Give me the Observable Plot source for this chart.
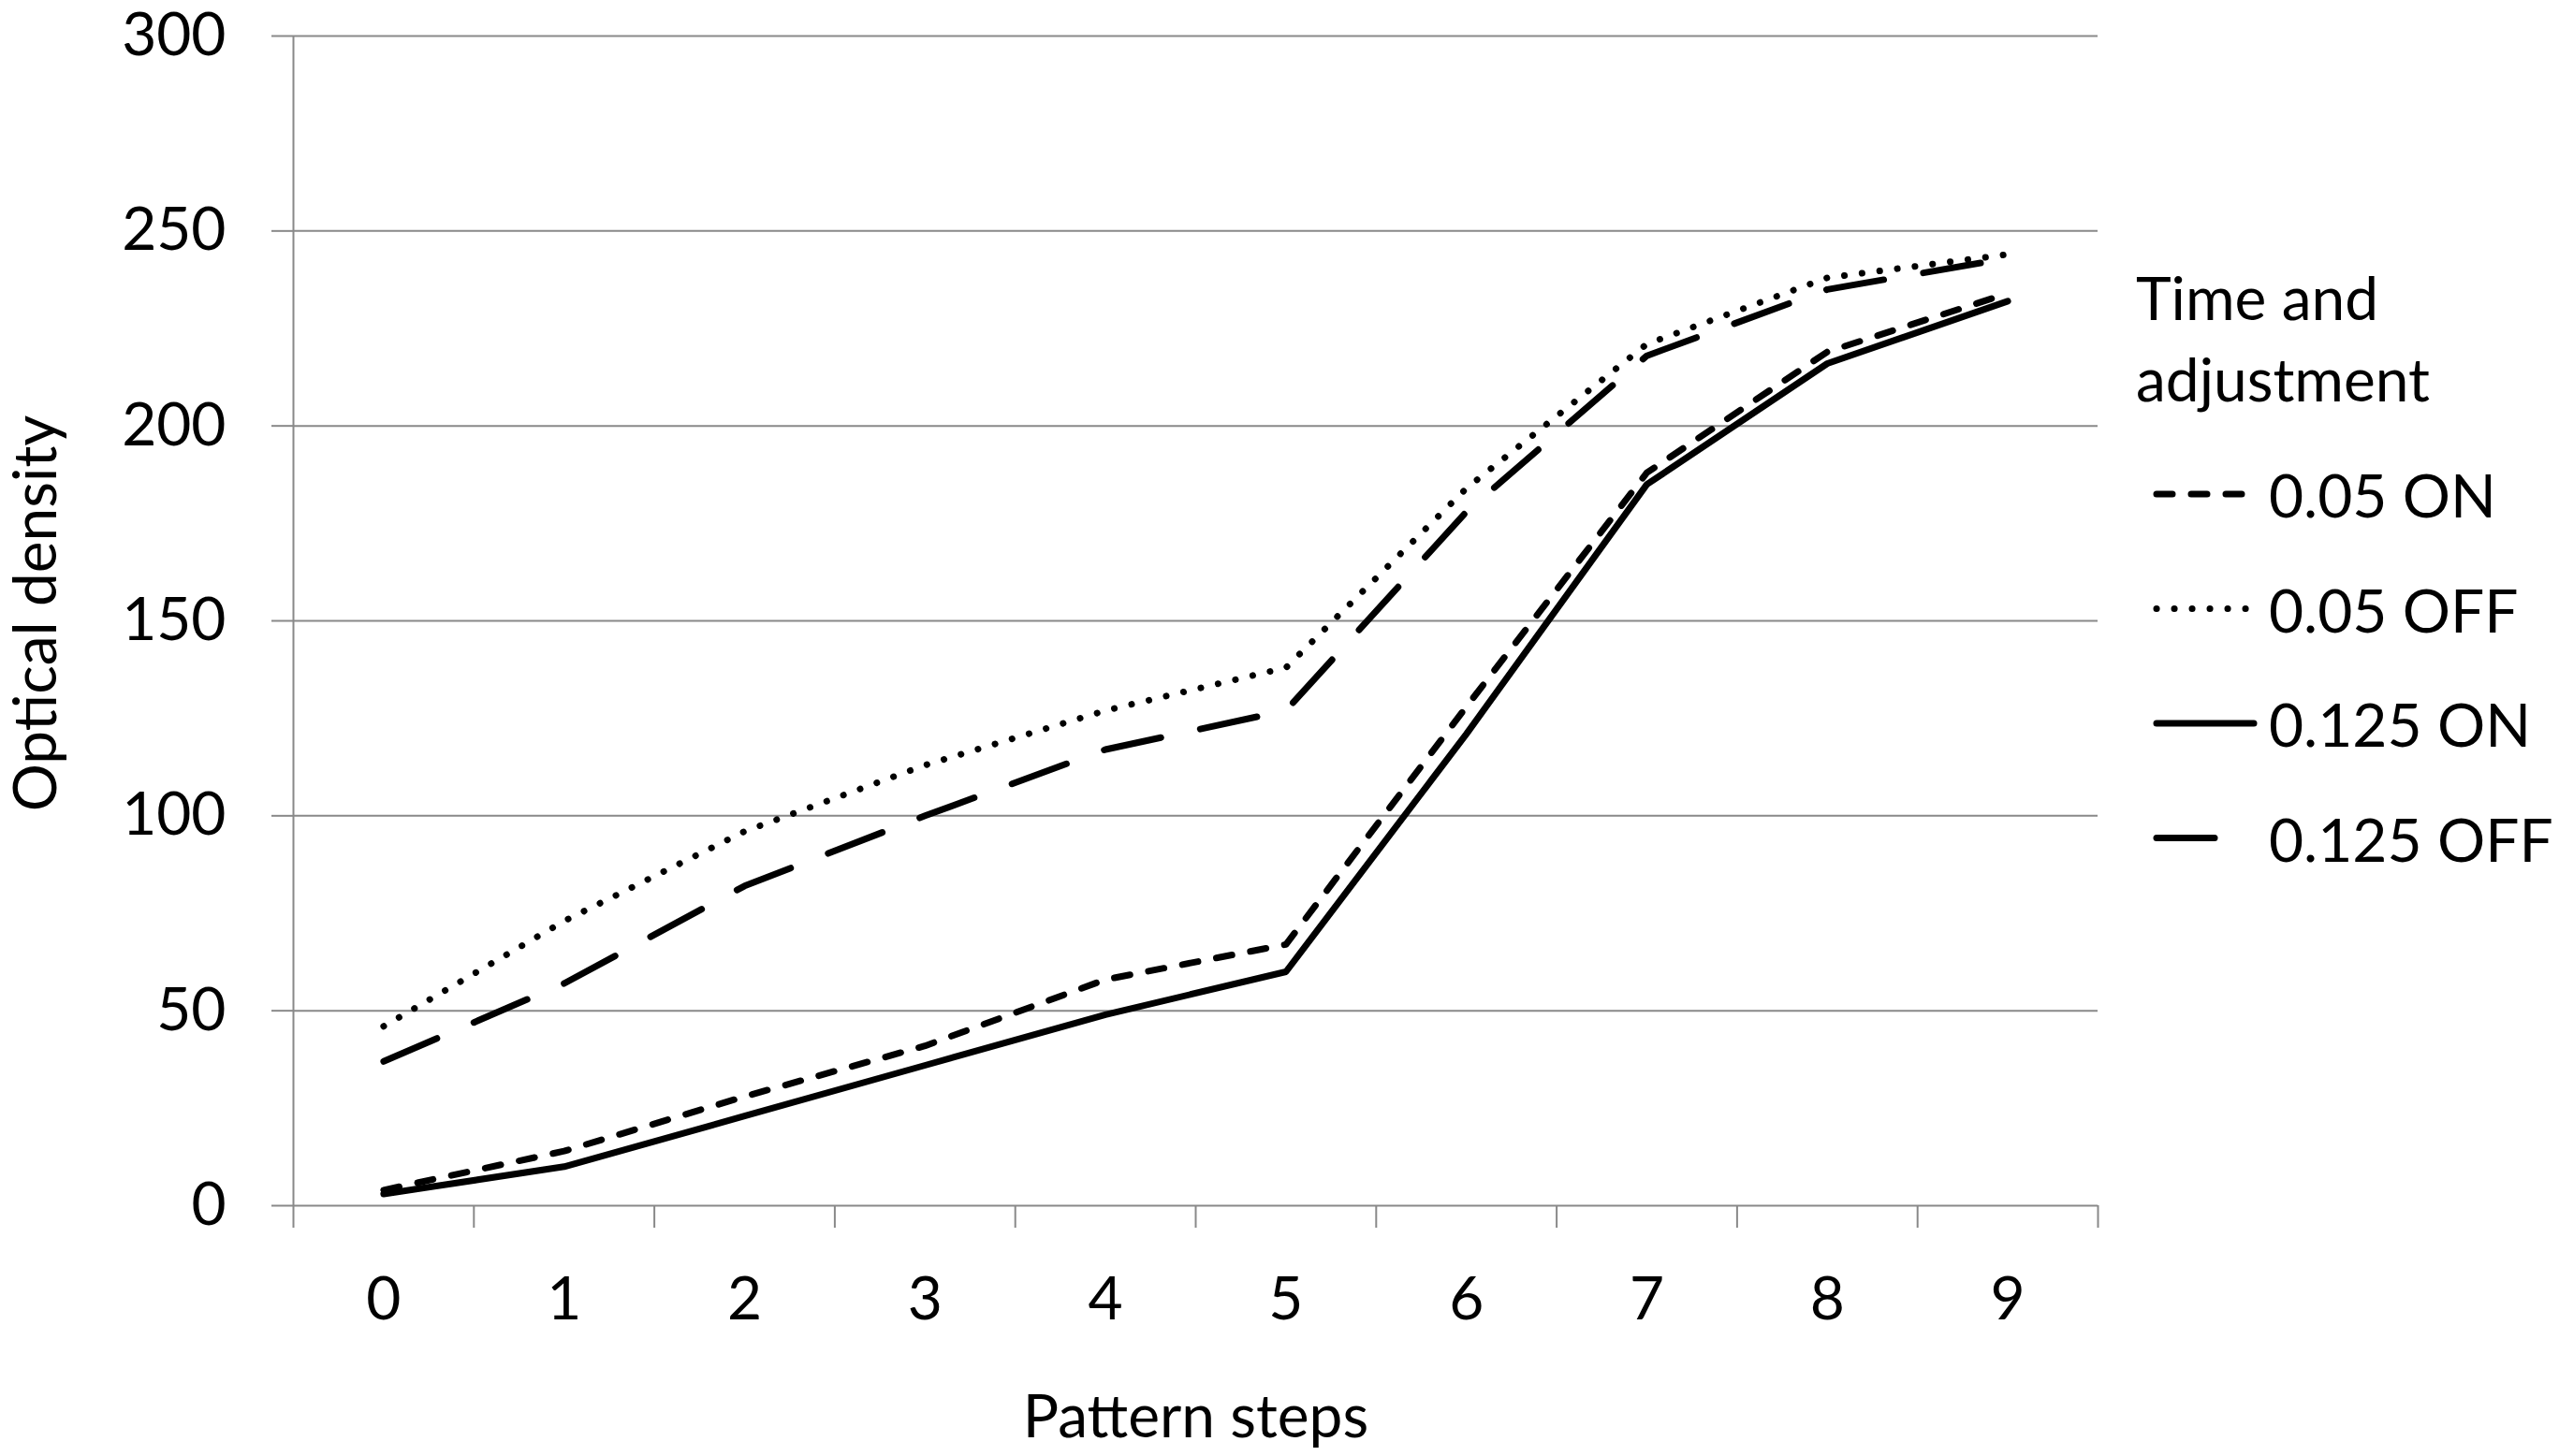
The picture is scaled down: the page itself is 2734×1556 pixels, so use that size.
<!DOCTYPE html>
<html>
<head>
<meta charset="utf-8">
<script src="https://cdn.jsdelivr.net/npm/d3@7"></script>
<script src="https://cdn.jsdelivr.net/npm/@observablehq/plot@0.6"></script>
<style>
  html, body { margin: 0; padding: 0; background: #ffffff; }
  #wrap { position: relative; width: 2734px; height: 1556px; font-family: Lato, "Open Sans", sans-serif; }
  #legend { position: absolute; left: 0; top: 0; pointer-events: none; }
</style>
</head>
<body>
<div id="wrap"></div>
<script>
// ---- data ----
const steps = [0, 1, 2, 3, 4, 5, 6, 7, 8, 9];
const seriesNames = ["0.05 ON", "0.05 OFF", "0.125 ON", "0.125 OFF"];
const on005   = [4, 14, 28, 41, 58, 67, 128, 188, 219, 234];
const off005  = [46, 73, 96, 113, 127, 138, 184, 221, 238, 244];
const on0125  = [3, 10, 23, 36, 49, 60, 121, 185, 216, 232];
const off0125 = [37, 57, 82, 100, 117, 127, 178, 218, 235, 243];
const yTicks = [0, 50, 100, 150, 200, 250, 300];
const xLabel = "Pattern steps";
const yLabel = "Optical density";
const legendTitle = ["Time and", "adjustment"];

// ---- styles ----
const dashes = {
  "0.05 ON": "17,20",
  "0.05 OFF": "0.1,18.9",
  "0.125 ON": null,
  "0.125 OFF": "62,43"
};
const gridColor = "#898989";
const fontSize = 64;
const lineW = 7;

const valuesBySeries = [on005, off005, on0125, off0125];
const table = [];
seriesNames.forEach((name, i) => {
  steps.forEach((s, j) => table.push({series: name, step: s, value: valuesBySeries[i][j]}));
});

const xDomain = [steps[0] - 0.5, steps[steps.length - 1] + 0.5];
const xBoundaries = steps.map(s => s - 0.5).concat([steps[steps.length - 1] + 0.5]);

const lineMarks = seriesNames.map(name => Plot.line(table.filter(d => d.series === name), {
  x: "step", y: "value",
  stroke: "#000",
  strokeWidth: lineW,
  strokeDasharray: dashes[name] || undefined,
  strokeLinecap: "round",
  strokeLinejoin: "round"
}));

const chart = Plot.plot({
  width: 2734,
  height: 1556,
  marginLeft: 313,
  marginRight: 493,
  marginTop: 38,
  marginBottom: 268,
  style: {fontFamily: "Lato, 'Open Sans', sans-serif", fontSize: fontSize + "px", color: "#000", background: "#fff"},
  x: {type: "linear", domain: xDomain},
  y: {domain: [yTicks[0], yTicks[yTicks.length - 1]]},
  marks: [
    Plot.gridY(yTicks, {stroke: gridColor, strokeOpacity: 1, strokeWidth: 2}),
    Plot.ruleX([xDomain[0]], {stroke: gridColor, strokeWidth: 2}),
    Plot.axisY(yTicks, {tickSize: 23, tickPadding: 49, stroke: gridColor, strokeWidth: 2, fill: "#000", fontSize: fontSize, label: null, tickFormat: d => String(d)}),
    Plot.axisX(xBoundaries, {tickSize: 24, stroke: gridColor, strokeWidth: 2, tickFormat: () => "", label: null}),
    Plot.axisX(steps, {tickSize: 0, tickPadding: 76, fill: "#000", fontSize: fontSize, label: null, tickFormat: d => String(d)}),
    ...lineMarks,
    Plot.text([yLabel], {frameAnchor: "left", text: d => d, rotate: -90, textAnchor: "middle", lineAnchor: "bottom", dx: -254, dy: -8, fontSize: fontSize, fill: "#000"}),
    Plot.text([xLabel], {frameAnchor: "bottom", text: d => d, textAnchor: "middle", lineAnchor: "bottom", dy: 247, fontSize: fontSize, fill: "#000"})
  ]
});
document.getElementById("wrap").appendChild(chart);

// ---- legend (beside the plot) ----
const leg = d3.select("#wrap").append("svg")
  .attr("id", "legend")
  .attr("width", 2734).attr("height", 1556)
  .style("font-family", "Lato, 'Open Sans', sans-serif")
  .style("font-size", fontSize + "px");

const legX = 2282, legTitleBase = 341.5, legTitleStep = 87;
legendTitle.forEach((t, i) => {
  leg.append("text").attr("x", legX).attr("y", legTitleBase + i * legTitleStep).attr("fill", "#000").text(t);
});
const itemBase = 553, itemStep = 122.5;
seriesNames.forEach((name, i) => {
  const base = itemBase + i * itemStep;
  const ly = base - 25;
  leg.append("line")
    .attr("x1", 2304).attr("x2", 2408)
    .attr("y1", ly).attr("y2", ly)
    .attr("stroke", "#000").attr("stroke-width", lineW)
    .attr("stroke-linecap", "round")
    .attr("stroke-dasharray", dashes[name] || null);
  leg.append("text").attr("x", 2424).attr("y", base).attr("fill", "#000").text(name);
});
</script>
</body>
</html>
